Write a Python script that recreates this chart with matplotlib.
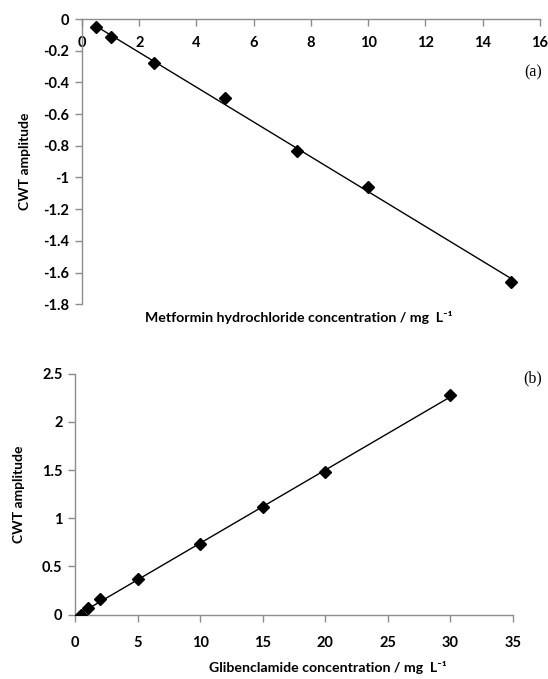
import numpy as np
import matplotlib
matplotlib.use("Agg")
import matplotlib.pyplot as plt

# Data
metformin_conc = [0.5, 1, 2.5, 5, 7.5, 10, 15]
metformin_cwt = [-0.05, -0.115, -0.28, -0.50, -0.83, -1.06, -1.66]

glib_conc = [0.5, 1, 2, 5, 10, 15, 20, 30]
glib_cwt = [0.0, 0.066, 0.16, 0.367, 0.733, 1.12, 1.477, 2.276]

top_xticks = [0, 2, 4, 6, 8, 10, 12, 14, 16]
top_yticks = [0, -0.2, -0.4, -0.6, -0.8, -1, -1.2, -1.4, -1.6, -1.8]
bot_xticks = [0, 5, 10, 15, 20, 25, 30, 35]
bot_yticks = [0, 0.5, 1, 1.5, 2, 2.5]

FAM = ["Lato", "DejaVu Sans"]
plt.rcParams["font.family"] = FAM
SPINE = "#8c8c8c"


def style(ax):
    for side in ("top", "right"):
        ax.spines[side].set_visible(False)
    for side in ("left", "bottom"):
        ax.spines[side].set_color(SPINE)
        ax.spines[side].set_linewidth(1.0)
    ax.tick_params(direction="out", length=5, width=1, color=SPINE,
                   labelsize=10.5, labelcolor="black", pad=4)
    for lab in ax.get_xticklabels() + ax.get_yticklabels():
        lab.set_fontweight("bold")


def fit_line(ax, x, y):
    x = np.asarray(x, float)
    k, b = np.polyfit(x, y, 1)
    xs = np.array([x.min(), x.max()])
    ax.plot(xs, k * xs + b, color="black", lw=1.0, zorder=2)
    ax.plot(x, y, "D", color="black", ms=6, zorder=3)


fig = plt.figure(figsize=(5.48, 6.79), dpi=100)

# (a) Metformin
ax1 = fig.add_axes([0.1496, 0.552, 0.8354, 0.420])
fit_line(ax1, metformin_conc, metformin_cwt)
ax1.set_xlim(0, 16)
ax1.set_ylim(-1.8, 0)
ax1.spines["bottom"].set_position(("data", 0))
ax1.set_xticks(top_xticks)
ax1.set_yticks(top_yticks)
ax1.set_yticklabels([f"{v:g}" for v in top_yticks])
style(ax1)
ax1.tick_params(axis="x", pad=7)
ax1.set_ylabel("CWT amplitude", fontsize=10, fontweight="bold", labelpad=9)
fig.text(0.545, 0.533, "Metformin hydrochloride concentration / mg  L\u207b\u00b9",
         ha="center", va="center", fontsize=10.2, fontweight="bold")
fig.text(0.972, 0.893, "(a)", ha="center", va="center",
         fontsize=11.5, family="Liberation Serif")

# (b) Glibenclamide
ax2 = fig.add_axes([0.137, 0.0947, 0.799, 0.355])
fit_line(ax2, glib_conc, glib_cwt)
ax2.set_xlim(0, 35)
ax2.set_ylim(0, 2.5)
ax2.set_xticks(bot_xticks)
ax2.set_yticks(bot_yticks)
ax2.set_yticklabels([f"{v:g}" for v in bot_yticks])
style(ax2)
ax2.tick_params(axis="x", pad=10)
ax2.set_ylabel("CWT amplitude", fontsize=10, fontweight="bold", labelpad=12)
fig.text(0.598, 0.017, "Glibenclamide concentration / mg  L\u207b\u00b9",
         ha="center", va="center", fontsize=10.2, fontweight="bold")
fig.text(0.972, 0.443, "(b)", ha="center", va="center",
         fontsize=11.5, family="Liberation Serif")

fig.savefig("out.png", dpi=100)
